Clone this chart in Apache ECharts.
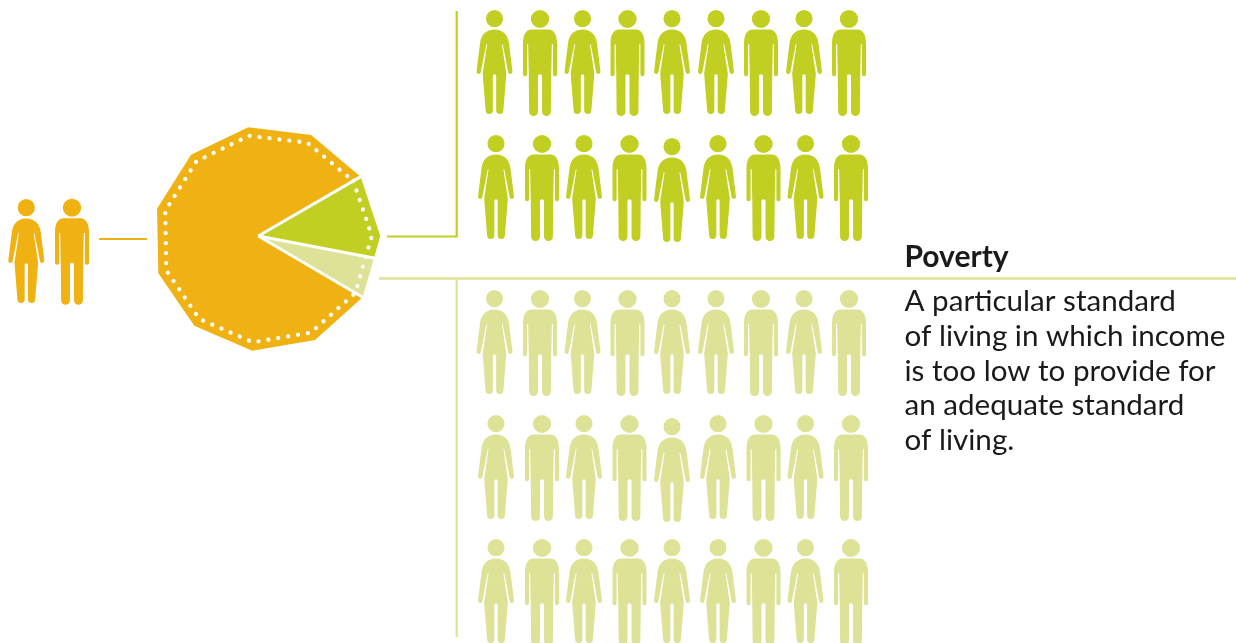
<!DOCTYPE html>
<html>
<head>
<meta charset="utf-8">
<title>Poverty</title>
<style>html,body{margin:0;padding:0;background:#fff}#chart{width:1236px;height:643px}</style>
<script src="https://cdn.jsdelivr.net/npm/echarts@6/dist/echarts.min.js"></script>
</head>
<body>
<div id="chart"></div>
<script>
// Population split, in percent of the whole
const sliceNames = ['Extreme poverty', 'Moderate poverty', 'Above the poverty line'];
const sliceShares = [11.36, 5.45, 83.19];

// People drawn in each pictogram block, and the figure used in each column
const extremeRows = 2;
const moderateRows = 3;
const columnFigures = ['woman', 'man', 'woman', 'man', 'woman', 'woman', 'man', 'woman', 'man'];
const householdFigures = ['woman', 'man'];

// The many-sided outline of the pie: position around the circle (percent) and radius
const outlineShare = [0, 8.36, 11.36, 16.81, 25.42, 34.19, 43.22, 52.67, 62.56, 72.36, 81.89, 91.03, 100];
const outlineRadius = [118.3, 122, 117.8, 121, 118.5, 114.9, 110.2, 106.7, 104.9, 105.5, 109.2, 113.9, 118.3];

// Layout, in page units
const PAGE_W = 1236, PAGE_H = 643;
const pieCentre = [258.3, 236];
const columnsPlain = [494.5, 540, 582.5, 627.5, 672, 716, 761, 804, 849];
const columnsShifted = [496, 542, 584, 629.5, 672, 718, 763.5, 805.5, 851];
const extremeLayout = [{ top: 10, xs: columnsPlain, drop: 0 }, { top: 135, xs: columnsShifted, drop: 3 }];
const moderateLayout = [
  { top: 290, xs: columnsPlain, drop: 0 },
  { top: 415, xs: columnsShifted, drop: 3 },
  { top: 539, xs: columnsShifted, drop: 0 }
];
const householdLayout = [{ x: 26.3, top: 199 }, { x: 72, top: 198.7 }];
const connectors = [
  { color: '#F0B212', width: 2.2, points: [[99, 239], [147, 239]] },
  { color: '#C1CF22', width: 2.2, points: [[387, 236.5], [456.7, 236.5], [456.7, 11]] },
  { color: '#DDE297', width: 2.6, points: [[379, 278.5], [1236, 278.5]] },
  { color: '#DDE297', width: 2.2, points: [[456.7, 278.5], [456.7, 637]] }
];

const ORANGE = '#F0B212', GREEN = '#C1CF22', PALE = '#DDE297';
const sliceColors = [GREEN, PALE, ORANGE];

// Standing figures, one outline plus a head
const figures = {
  man: {
    size: [34, 106],
    path: 'path://M275 88 L325 88 C341 88 350 104 350 130 L350 222 A6 6 0 0 1 338 222 L338 132 L334.8 132 L333 228 L332 335 A13 13 0 0 1 306 335 L306 228 A6 6 0 0 0 294 228 L294 335 A13 13 0 0 1 268 335 L267 228 L265.2 132 L262 132 L262 222 A6 6 0 0 1 250 222 L250 130 C250 104 259 88 275 88 Z M273 56 A27 27 0 1 1 327 56 A27 27 0 1 1 273 56 Z'
  },
  woman: {
    size: [36, 104],
    path: 'path://M163 89 C189 89 204 106 207 130 L217.5 214 A6.5 6.5 0 0 1 204.5 217 L188 133 L185.5 133 L199 222 L190 332 A11 11 0 0 1 168 332 L168 228 A5 5 0 0 0 158 228 L158 332 A11 11 0 0 1 136 332 L127 222 L140.5 133 L138 133 L121.5 217 A6.5 6.5 0 0 1 108.5 214 L119 130 C122 106 137 89 163 89 Z M137 56 A26 26 0 1 1 189 56 A26 26 0 1 1 137 56 Z'
  }
};

function figurePoint(kind, x, top) {
  const f = figures[kind];
  return { value: [x, top + f.size[1] / 2], symbol: f.path, symbolSize: f.size };
}

function blockPoints(layout, rows) {
  const out = [];
  for (let r = 0; r < rows; r++) {
    const row = layout[r];
    columnFigures.forEach((kind, c) => {
      out.push(figurePoint(kind, row.xs[c], row.top + (c === 4 ? row.drop : 0)));
    });
  }
  return out;
}

function peopleSeries(name, color, data) {
  return {
    name, type: 'scatter', xAxisIndex: 0, yAxisIndex: 0,
    itemStyle: { color, opacity: 1 }, silent: true, clip: true, data
  };
}

// Point on the outline, in polar axis values
function polarPoint(api, r, share) {
  return api.coord([r, share]).slice(0, 2);
}

function sliceOutline(from, to) {
  const out = [];
  outlineShare.forEach((s, i) => {
    if (s >= from - 1e-6 && s <= to + 1e-6) out.push([outlineRadius[i], s]);
  });
  return out;
}

const sliceEdges = [0];
sliceShares.forEach(s => sliceEdges.push(sliceEdges[sliceEdges.length - 1] + s));

const option = {
  backgroundColor: '#fff',
  animation: false,
  textStyle: { fontFamily: 'Lato' },
  title: [
    {
      text: 'Poverty', left: 904.5, top: 240, padding: 0,
      textStyle: { fontFamily: 'Lato', fontSize: 30, fontWeight: 700, color: '#1a1a1a', lineHeight: 34 }
    },
    {
      text: 'A particular standard\nof living in which income\nis too low to provide for\nan adequate standard\nof living.',
      left: 904.5, top: 284.5, padding: 0,
      textStyle: { fontFamily: 'Lato', fontSize: 29.6, fontWeight: 400, color: '#1a1a1a', lineHeight: 34.7 }
    }
  ],
  grid: { left: 0, top: 0, width: PAGE_W, height: PAGE_H, containLabel: false },
  xAxis: { type: 'value', min: 0, max: PAGE_W, show: false },
  yAxis: { type: 'value', min: 0, max: PAGE_H, inverse: true, show: false },
  polar: { center: pieCentre, radius: 122 },
  radiusAxis: { type: 'value', min: 0, max: 122, show: false },
  angleAxis: { type: 'value', min: 0, max: 100, startAngle: 30.1, clockwise: true, show: false },
  series: [
    // Connector rules
    ...connectors.map(c => ({
      type: 'line', xAxisIndex: 0, yAxisIndex: 0, symbol: 'none', silent: true, clip: false,
      lineStyle: { color: c.color, width: c.width, cap: 'butt', join: 'miter' }, data: c.points
    })),
    // Pie slices on the polar axes
    {
      type: 'custom', coordinateSystem: 'polar', silent: true, clip: false,
      data: sliceNames.map((name, i) => ({ name, value: [122, sliceEdges[i + 1]] })),
      renderItem(params, api) {
        const i = params.dataIndex;
        const pts = [polarPoint(api, 0, 0)].concat(
          sliceOutline(sliceEdges[i], sliceEdges[i + 1]).map(p => polarPoint(api, p[0], p[1]))
        );
        return { type: 'polygon', shape: { points: pts }, style: { fill: sliceColors[i] } };
      }
    },
    // White spokes between the slices, then the dotted inner ring
    {
      type: 'custom', coordinateSystem: 'polar', silent: true, clip: false,
      data: [[122, 0]],
      renderItem(params, api) {
        const children = [];
        sliceEdges.slice(0, 3).forEach(edge => {
          const k = outlineShare.indexOf(edge);
          const r = outlineRadius[k];
          const a = polarPoint(api, 0, edge), b = polarPoint(api, r + 1, edge);
          children.push({
            type: 'line', shape: { x1: a[0], y1: a[1], x2: b[0], y2: b[1] },
            style: { stroke: '#fff', lineWidth: 3, fill: null }
          });
        });
        const ring = [];
        outlineShare.forEach((s, i) => {
          if (s !== sliceEdges[1]) ring.push(polarPoint(api, outlineRadius[i] - 8.5, s));
        });
        children.push({
          type: 'polyline', shape: { points: ring },
          style: { stroke: '#fff', fill: null, lineWidth: 4.2, lineCap: 'round', lineDash: [0.1, 9.9] }
        });
        return { type: 'group', children };
      }
    },
    peopleSeries('Household', ORANGE, householdFigures.map((k, i) => figurePoint(k, householdLayout[i].x, householdLayout[i].top))),
    peopleSeries('Extreme poverty', GREEN, blockPoints(extremeLayout, extremeRows)),
    peopleSeries('Moderate poverty', PALE, blockPoints(moderateLayout, moderateRows))
  ]
};

echarts.init(document.getElementById('chart'), null, { renderer: 'canvas' }).setOption(option);
</script>
</body>
</html>
